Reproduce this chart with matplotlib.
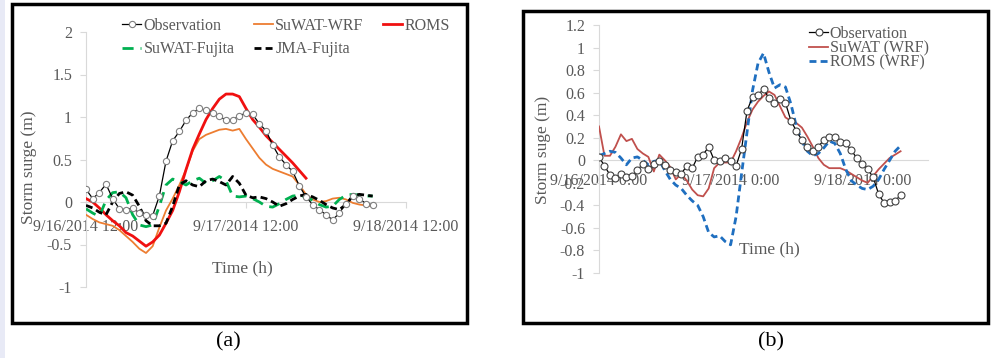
import matplotlib
matplotlib.use("Agg")
import matplotlib.pyplot as plt
from matplotlib.patches import Rectangle

plt.rcParams['font.family'] = ['Liberation Serif', 'DejaVu Serif']

# ---- panel (a): hours since 9/16/2014 12:00 ----
hours_a = list(range(44))
obs_a = [0.15, 0.04, 0.11, 0.21, 0.04, -0.08, -0.09, -0.07, -0.13, -0.15, -0.16, 0.07,
         0.48, 0.72, 0.83, 0.96, 1.05, 1.10, 1.08, 1.05, 1.01, 0.96, 0.97, 1.01,
         1.05, 1.03, 0.92, 0.84, 0.67, 0.53, 0.44, 0.36, 0.19, 0.06, -0.03, -0.09,
         -0.15, -0.21, -0.13, -0.02, 0.07, 0.04, -0.02, -0.03]
suwat_wrf_a = [-0.15, -0.20, -0.24, -0.26, -0.28, -0.33, -0.40, -0.47, -0.55, -0.60, -0.52, -0.30,
               -0.10, 0.04, 0.20, 0.38, 0.60, 0.74, 0.79, 0.82, 0.85, 0.86, 0.84, 0.86,
               0.74, 0.63, 0.52, 0.44, 0.39, 0.36, 0.33, 0.30, 0.20, 0.09, 0.03, 0.00,
               0.01, 0.04, 0.05, 0.03, -0.01, -0.03, -0.04, -0.05]
roms_a = [0.04, 0.00, -0.07, -0.15, -0.22, -0.28, -0.36, -0.40, -0.46, -0.52, -0.47, -0.39,
          -0.25, -0.10, 0.12, 0.38, 0.62, 0.80, 0.97, 1.10, 1.21, 1.27, 1.27, 1.24,
          1.10, 0.97, 0.88, 0.78, 0.70, 0.62, 0.54, 0.46, 0.37, 0.28]
suwat_fujita_a = [-0.08, -0.13, -0.17, 0.02, 0.11, 0.12, 0.05, -0.15, -0.27, -0.29, -0.27, -0.05,
                  0.20, 0.27, 0.24, 0.20, 0.25, 0.28, 0.22, 0.25, 0.30, 0.25, 0.07, 0.06,
                  0.07, 0.04, 0.00, -0.05, -0.06, -0.02, 0.03, 0.07, 0.08, 0.06, 0.02, -0.03,
                  -0.06, -0.05, 0.03, 0.08, 0.09, 0.08, 0.07, 0.07]
jma_fujita_a = [-0.04, -0.07, -0.12, -0.15, 0.00, 0.10, 0.12, 0.08, -0.05, -0.22, -0.28, -0.28,
                -0.25, -0.05, 0.20, 0.25, 0.20, 0.18, 0.25, 0.27, 0.24, 0.20, 0.30, 0.22,
                0.08, 0.05, 0.06, 0.04, 0.00, -0.05, -0.02, 0.03, 0.07, 0.09, 0.06, 0.02,
                -0.03, -0.07, -0.09, -0.03, 0.07, 0.09, 0.08, 0.07]
xticks_a = [0, 24, 48]
xlabels_a = ['9/16/2014 12:00', '9/17/2014 12:00', '9/18/2014 12:00']

# ---- panel (b): hours since 9/16/2014 0:00 ----
hours_b = list(range(56))
obs_b = [0.03, -0.05, -0.13, -0.16, -0.12, -0.15, -0.14, -0.09, -0.03, -0.08, -0.03, -0.01,
         -0.04, -0.09, -0.10, -0.12, -0.05, -0.07, 0.03, 0.05, 0.12, 0.00, -0.01, 0.02,
         -0.01, -0.05, 0.10, 0.44, 0.56, 0.58, 0.63, 0.55, 0.51, 0.54, 0.51, 0.35,
         0.26, 0.18, 0.12, 0.08, 0.12, 0.18, 0.21, 0.21, 0.16, 0.15, 0.09, 0.02,
         -0.03, -0.08, -0.15, -0.30, -0.38, -0.37, -0.36, -0.31]
suwat_b = [0.30, 0.04, 0.04, 0.12, 0.23, 0.17, 0.19, 0.10, 0.06, 0.03, -0.10, 0.05,
           0.00, -0.06, -0.17, -0.12, -0.18, -0.26, -0.31, -0.32, -0.25, -0.07, -0.02, -0.02,
           -0.02, 0.08, 0.20, 0.34, 0.45, 0.52, 0.57, 0.61, 0.58, 0.48, 0.38, 0.35,
           0.33, 0.29, 0.21, 0.12, 0.02, -0.04, -0.07, -0.07, -0.07, -0.09, -0.12, -0.15,
           -0.18, -0.20, -0.14, -0.08, -0.03, 0.02, 0.05, 0.08]
roms_b = [0.04, 0.06, 0.08, 0.07, 0.02, -0.04, 0.02, 0.03, 0.00, -0.04, -0.01, 0.00,
          -0.09, -0.17, -0.22, -0.25, -0.31, -0.36, -0.40, -0.50, -0.64, -0.68, -0.67, -0.72,
          -0.75, -0.50, -0.12, 0.25, 0.62, 0.86, 0.95, 0.78, 0.64, 0.67, 0.65, 0.50,
          0.30, 0.17, 0.08, 0.04, 0.06, 0.11, 0.17, 0.15, 0.06, -0.08, -0.18, -0.22,
          -0.25, -0.26, -0.23, -0.17, -0.08, 0.00, 0.08, 0.13]
xticks_b = [0, 24, 48]
xlabels_b = ['9/16/2014 0:00', '9/17/2014 0:00', '9/18/2014 0:00']

W, H = 992, 358
GRAY = '#595959'
AXC = '#D9D9D9'


def style_axis(ax, xmax, ylo, yhi, ystep, xpad):
    ax.set_xlim(0, xmax)
    ax.set_ylim(ylo, yhi)
    n = int(round((yhi - ylo) / ystep))
    ax.set_yticks([round(ylo + i * ystep, 2) for i in range(n + 1)])
    for s in ['top', 'right']:
        ax.spines[s].set_visible(False)
    ax.spines['left'].set_color(AXC)
    ax.spines['bottom'].set_color(AXC)
    ax.spines['bottom'].set_position(('data', 0))
    ax.tick_params(axis='y', direction='out', length=4, color=AXC, labelcolor=GRAY,
                   labelsize=11.5, pad=6)
    ax.tick_params(axis='x', direction='out', length=4, color=AXC, labelcolor=GRAY,
                   labelsize=11.5, pad=xpad)
    ax.set_facecolor('none')


fig = plt.figure(figsize=(W / 100, H / 100), dpi=100)
fig.patch.set_facecolor('white')
fig.add_artist(Rectangle((0, 0), 5 / W, 1, transform=fig.transFigure,
                         facecolor='#E8EAF6', edgecolor='none'))

# ---------- (a) ----------
ax1 = fig.add_axes([86 / W, 1 - 287 / H, 320 / W, 255 / H])
style_axis(ax1, 48, -1, 2, 0.5, 8)
ax1.set_yticklabels(['-1', '-0.5', '0', '0.5', '1', '1.5', '2'])
ax1.set_xticks(xticks_a)
ax1.set_xticklabels(xlabels_a)

l_obs, = ax1.plot(hours_a, obs_a, color='black', lw=0.9, marker='o', ms=4.5,
                  mfc='white', mec='#808080', mew=0.8, zorder=4)
l_wrf, = ax1.plot(hours_a, suwat_wrf_a, color='#ED7D31', lw=1.3, zorder=3)
l_roms, = ax1.plot(hours_a[:len(roms_a)], roms_a, color='#F01010', lw=2, zorder=3)
l_sf, = ax1.plot(hours_a, suwat_fujita_a, color='#00B050', lw=2, ls=(0, (4, 2.5)), zorder=3)
l_jma, = ax1.plot(hours_a, jma_fujita_a, color='black', lw=2, ls=(0, (2.5, 1.5)), zorder=3)

ax1.legend([l_obs, l_sf, l_wrf, l_jma, l_roms],
           ['Observation', 'SuWAT-Fujita', 'SuWAT-WRF', 'JMA-Fujita', 'ROMS'],
           loc='upper left', bbox_to_anchor=(122 / W, 1 - 18 / H), bbox_transform=fig.transFigure,
           ncol=3, frameon=False, borderpad=0, borderaxespad=0, handlelength=1.2,
           handletextpad=0.15, columnspacing=1.2, labelspacing=0.45, fontsize=11.5,
           labelcolor=GRAY)

fig.text(29 / W, 1 - 167 / H, 'Storm surge (m)', rotation=90, ha='center', va='center',
         fontsize=12.5, color=GRAY)
fig.text(242 / W, 1 - 268 / H, 'Time (h)', ha='center', va='center', fontsize=12.5, color=GRAY)
fig.add_artist(Rectangle((12 / W, 1 - 323 / H), 455 / W, 319 / H, transform=fig.transFigure,
                         fill=False, edgecolor='black', lw=2.5))
fig.text(228 / W, 1 - 342 / H, '(a)', ha='center', va='center', fontsize=16)

# ---------- (b) ----------
ax2 = fig.add_axes([599 / W, 1 - 273 / H, 329 / W, 248 / H])
style_axis(ax2, 60, -1, 1.2, 0.2, 5)
ax2.set_yticklabels(['-1', '-0.8', '-0.6', '-0.4', '-0.2', '0', '0.2', '0.4', '0.6',
                     '0.8', '1', '1.2'])
ax2.set_xticks(xticks_b)
ax2.set_xticklabels(xlabels_b)

m_obs, = ax2.plot(hours_b, obs_b, color='black', lw=0.9, marker='o', ms=5,
                  mfc='white', mec='#404040', mew=0.8, zorder=4)
m_suw, = ax2.plot(hours_b, suwat_b, color='#C0504D', lw=1.3, zorder=3)
m_roms, = ax2.plot(hours_b, roms_b, color='#1F6FC0', lw=2, ls=(0, (2.5, 1.5)), zorder=3)

ax2.legend([m_obs, m_suw, m_roms], ['Observation', 'SuWAT (WRF)', 'ROMS (WRF)'],
           loc='upper left', bbox_to_anchor=(809 / W, 1 - 26 / H), bbox_transform=fig.transFigure,
           frameon=False, borderpad=0, borderaxespad=0, handlelength=1.2,
           handletextpad=0.1, labelspacing=-0.1, fontsize=11.5, labelcolor=GRAY)

fig.text(543 / W, 1 - 150 / H, 'Storm suge (m)', rotation=90, ha='center', va='center',
         fontsize=12.5, color=GRAY)
fig.text(769 / W, 1 - 249 / H, 'Time (h)', ha='center', va='center', fontsize=12.5, color=GRAY)
fig.add_artist(Rectangle((523 / W, 1 - 323 / H), 465 / W, 312 / H, transform=fig.transFigure,
                         fill=False, edgecolor='black', lw=2.5))
fig.text(771 / W, 1 - 342 / H, '(b)', ha='center', va='center', fontsize=16)

fig.savefig('out.png', dpi=100)
